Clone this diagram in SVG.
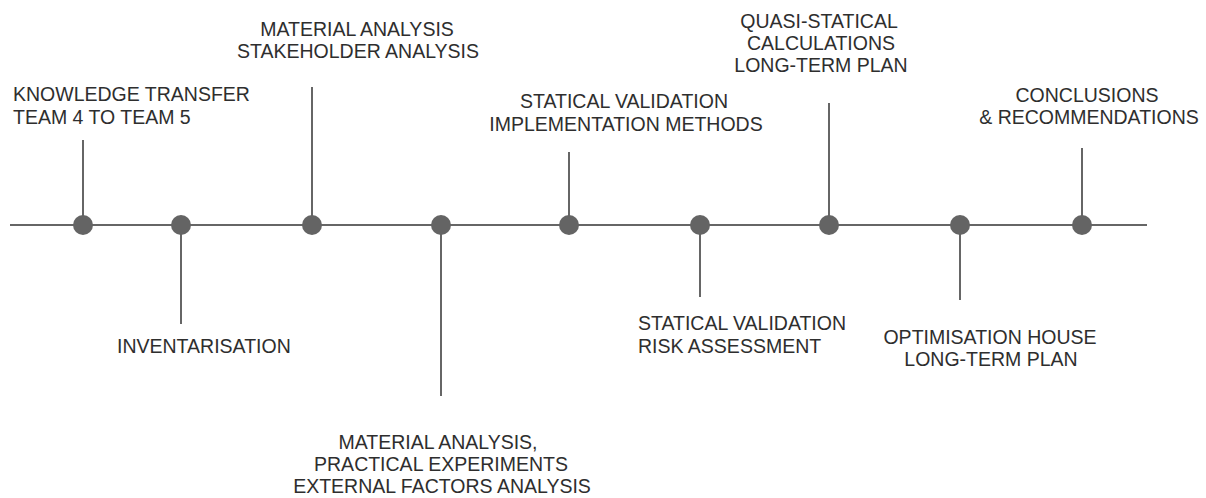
<svg xmlns="http://www.w3.org/2000/svg" width="1206" height="498" viewBox="0 0 1206 498">
<style>
.ln{stroke:#666;stroke-width:2;fill:none}
.dot{fill:#646464}
text{font-family:"Liberation Sans",Arial,sans-serif;font-size:19.5px;fill:#2e2e2e}
.m{text-anchor:middle}
</style>
<rect width="1206" height="498" fill="#fff"/>
<g id="connectors">
<line class="ln" x1="10" y1="225" x2="1147" y2="225"/>
<line class="ln" x1="83" y1="140" x2="83" y2="225"/>
<line class="ln" x1="181" y1="225" x2="181" y2="324"/>
<line class="ln" x1="312" y1="87" x2="312" y2="225"/>
<line class="ln" x1="441" y1="225" x2="441" y2="396"/>
<line class="ln" x1="569" y1="152" x2="569" y2="225"/>
<line class="ln" x1="700" y1="225" x2="700" y2="297"/>
<line class="ln" x1="829" y1="103" x2="829" y2="225"/>
<line class="ln" x1="960" y1="225" x2="960" y2="300"/>
<line class="ln" x1="1082" y1="148" x2="1082" y2="225"/>
</g>
<g id="n1"><circle class="dot" cx="83" cy="225" r="10"/><text x="13" y="101">KNOWLEDGE TRANSFER</text><text x="13" y="124">TEAM 4 TO TEAM 5</text></g>
<g id="n2"><circle class="dot" cx="181" cy="225" r="10"/><text x="117" y="353">INVENTARISATION</text></g>
<g id="n3"><circle class="dot" cx="312" cy="225" r="10"/><text class="m" x="357" y="36">MATERIAL ANALYSIS</text><text class="m" x="358" y="58">STAKEHOLDER ANALYSIS</text></g>
<g id="n4"><circle class="dot" cx="441" cy="225" r="10"/><text class="m" x="438" y="449">MATERIAL ANALYSIS,</text><text class="m" x="441" y="471">PRACTICAL EXPERIMENTS</text><text class="m" x="442" y="493">EXTERNAL FACTORS ANALYSIS</text></g>
<g id="n5"><circle class="dot" cx="569" cy="225" r="10"/><text class="m" x="624" y="108">STATICAL VALIDATION</text><text class="m" x="626" y="131">IMPLEMENTATION METHODS</text></g>
<g id="n6"><circle class="dot" cx="700" cy="225" r="10"/><text x="638" y="330">STATICAL VALIDATION</text><text x="638" y="353">RISK ASSESSMENT</text></g>
<g id="n7"><circle class="dot" cx="829" cy="225" r="10"/><text class="m" x="819" y="28">QUASI-STATICAL</text><text class="m" x="821" y="50">CALCULATIONS</text><text class="m" x="821" y="72">LONG-TERM PLAN</text></g>
<g id="n8"><circle class="dot" cx="960" cy="225" r="10"/><text class="m" x="990" y="344">OPTIMISATION HOUSE</text><text class="m" x="991" y="366">LONG-TERM PLAN</text></g>
<g id="n9"><circle class="dot" cx="1082" cy="225" r="10"/><text class="m" x="1087" y="102">CONCLUSIONS</text><text class="m" x="1089" y="124">&amp; RECOMMENDATIONS</text></g>
</svg>
